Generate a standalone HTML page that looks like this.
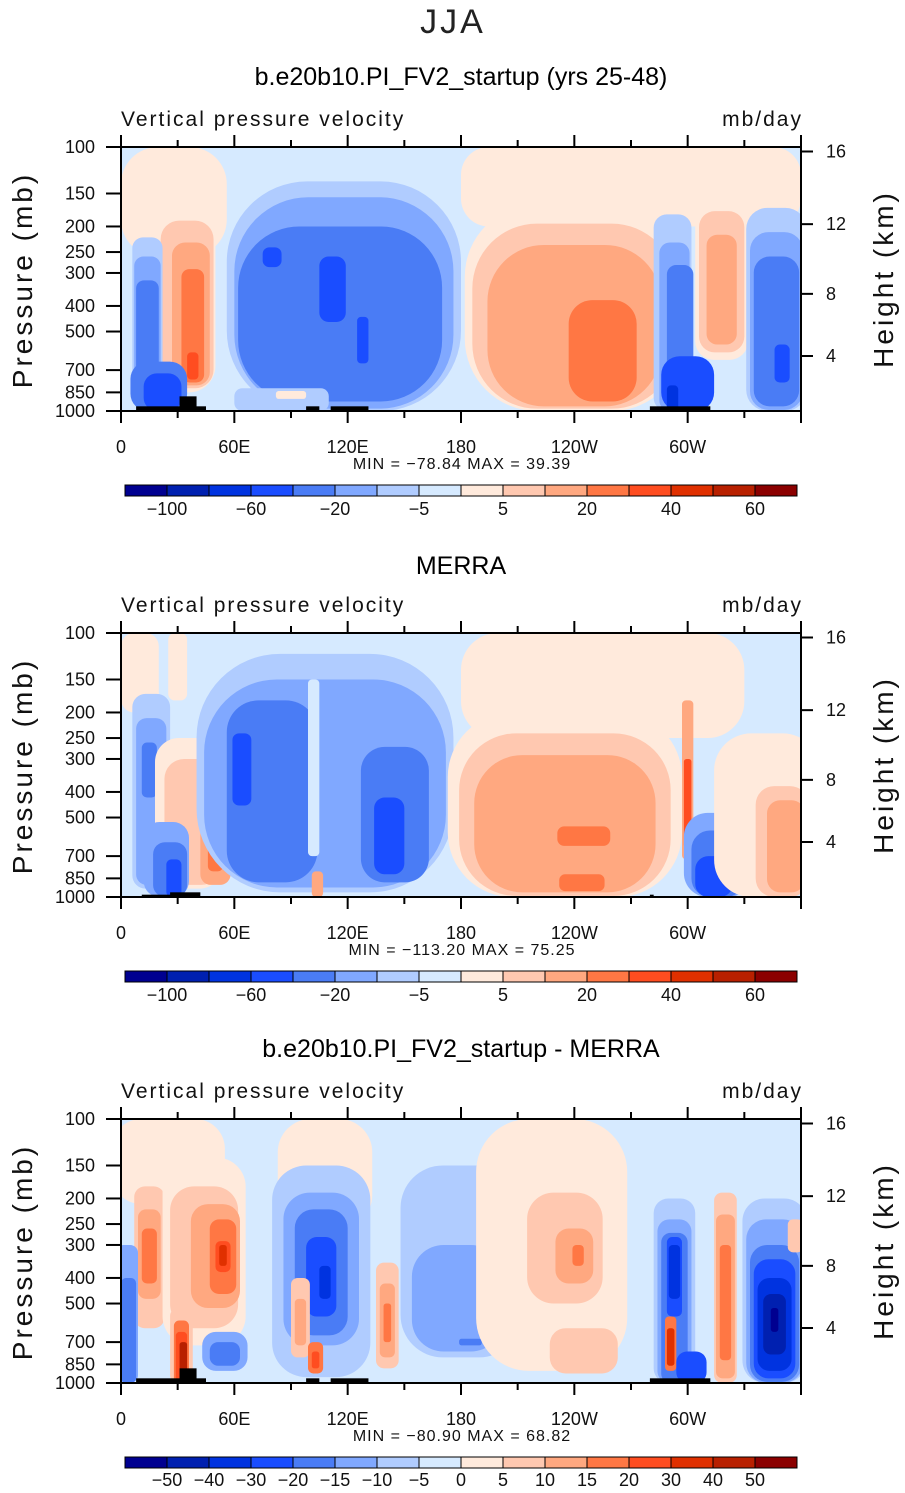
<!DOCTYPE html>
<html><head><meta charset="utf-8">
<style>
html,body{margin:0;padding:0;background:#fff;}
svg{display:block;font-family:"Liberation Sans",sans-serif;}
</style></head>
<body>
<svg id="chart" width="905" height="1493" viewBox="0 0 905 1493">
<text x="453" y="33" text-anchor="middle" font-size="34" font-weight="300" letter-spacing="3" fill="#222">JJA</text>
</svg>
<script>
const colors=["#000090","#0020b0","#0033e0","#1a4dff","#4a7cf5","#80a8ff","#b0ccff","#d6eaff","#ffeadc","#ffc8b0","#ffa880","#ff7744","#ff4d20","#e03000","#b82000","#8b0000"];
const xTickLabels=["0","60E","120E","180","120W","60W"];
const xTickLons=[0,60,120,180,240,300];
const pTicks=[100,150,200,250,300,400,500,700,850,1000];
const hTicks=[16,12,8,4];
const hTickP=[104,196,360,619];
const cbLabels1=["\u2212100","\u221260","\u221220","\u22125","5","20","40","60"];
const cbLabels3=["\u221250","\u221240","\u221230","\u221220","\u221215","\u221210","\u22125","0","5","10","15","20","30","40","50"];
const titles=["b.e20b10.PI_FV2_startup (yrs 25-48)","MERRA","b.e20b10.PI_FV2_startup - MERRA"];
const minVals=["\u221278.84","\u2212113.20","\u221280.90"];
const maxVals=["39.39","75.25","68.82"];
// blobs: [lon, halfWidthDeg, pTop, pBottom, level]
const field1=[
[270,90,100,200,8],[28,28,100,260,8],[30,20,100,850,8],[35,14,190,820,9],[37,10,230,800,10],[38,6,290,780,11],[38,3,600,760,12],
[14,8,220,960,6],[14,7,260,940,5],[14,6,320,940,4],[20,15,650,1000,4],[22,10,720,1000,3],
[118,62,135,1000,6],[118,58,155,980,5],[116,54,200,920,4],[80,5,240,285,3],[112,7,260,460,3],[128,3,440,660,3],
[85,25,820,1000,6],[90,8,840,900,8],
[240,58,165,1000,8],[240,54,195,980,9],[240,46,235,960,10],[255,18,380,920,11],
[292,10,180,1000,6],[293,8,230,1000,5],[296,7,280,1000,4],[300,14,620,1000,3],[292,3,800,1000,2],
[318,14,150,640,8],[318,12,175,600,9],[318,8,215,560,10],
[347,16,170,1000,6],[347,14,210,990,5],[347,12,260,960,4],[350,4,560,780,3]];
const field2=[
[10,10,100,200,8],[30,5,100,180,8],[255,75,100,250,8],
[16,10,170,930,6],[16,8,210,900,5],[15,4,260,420,4],
[36,18,250,930,8],[38,15,300,900,9],[50,8,520,900,10],[50,4,620,800,11],
[24,12,520,1000,5],[26,9,620,1000,4],[28,4,720,1000,3],
[108,68,120,960,6],[108,64,150,920,5],[80,24,180,880,4],[145,18,270,880,4],[64,5,240,450,3],[142,8,420,820,3],[102,3,150,700,7],[104,3,800,1000,10],
[235,62,200,1000,8],[235,56,240,990,9],[235,48,290,960,10],[245,14,540,640,11],[244,12,820,950,11],
[300,3,180,720,10],[300,2,300,650,12],
[316,18,480,1000,5],[316,14,560,1000,4],[314,10,700,1000,3],
[342,28,240,1000,8],[350,14,380,1000,9],[352,10,430,960,10]];
const field3=[
[25,30,100,210,8],[108,25,100,260,8],
[15,8,180,620,9],[15,6,220,480,10],[15,4,260,420,11],
[44,22,140,720,8],[44,18,180,620,9],[50,13,210,520,10],[54,7,240,460,11],[54,4,290,380,12],[54,2,300,360,13],
[3,6,300,1000,5],[4,4,400,1000,4],
[32,6,520,1000,9],[32,4,580,1000,11],[32,3,640,1000,12],[33,2,700,1000,14],
[55,12,640,900,5],[55,8,700,860,4],
[106,26,150,950,6],[106,20,190,720,5],[106,14,220,660,4],[106,8,280,560,3],[108,3,360,480,2],
[95,5,400,800,9],[95,3,480,720,10],[103,4,700,920,11],[103,2,760,880,12],
[141,6,350,880,9],[141,4,420,800,10],[141,2,500,700,11],
[180,32,150,800,6],[178,24,300,760,5],[185,6,680,720,4],
[228,40,100,900,8],[235,20,190,500,9],[240,10,260,420,10],[242,3,300,360,11],[245,18,620,920,9],
[293,11,200,1000,6],[293,9,240,1000,5],[293,7,270,1000,4],[293,4,280,560,3],[293,3,300,480,2],
[291,3,560,900,11],[291,2,620,860,13],[302,8,760,1000,3],
[320,6,190,1000,9],[320,5,230,960,10],[320,3,300,820,11],
[346,17,200,1000,6],[346,15,240,1000,5],[346,13,300,990,4],[346,11,340,960,3],[346,9,400,900,2],[346,6,460,780,1],[346,2,520,640,0],
[357,4,240,320,9]];
const fields=[field1,field2,field3];
// topography: [lon0, lon1, pTop]
const topo1=[[8,45,960],[31,40,880],[98,105,960],[111,131,960],[280,312,960]];
const topo2=[[11,40,980],[26,42,960],[280,282,980]];
const topos=[topo1,topo2,topo1];

const NS="http://www.w3.org/2000/svg";
const svg=document.getElementById("chart");
const X0=121,X1=801,PH=264;
function xOf(lon){return X0+lon*(X1-X0)/360;}
function mk(tag,attrs,parent){const e=document.createElementNS(NS,tag);for(const k in attrs)e.setAttribute(k,attrs[k]);(parent||svg).appendChild(e);return e;}
const titleY=[85,574,1057];

for(let i=0;i<3;i++){
  const off=i*486, top=147+off, bot=top+PH;
  const yOf=p=>top+Math.log10(p/100)*PH;
  const g=mk("g",{});
  
  
  const t=mk("text",{x:461,y:titleY[i],"text-anchor":"middle","font-size":"25",fill:"#000"},g);
  t.textContent=titles[i];
  
  
  const st=mk("text",{x:121,y:126+off,"font-size":"21","letter-spacing":"2",fill:"#111"},g);
  st.textContent="Vertical pressure velocity";
  
  
  const un=mk("text",{x:803,y:126+off,"text-anchor":"end","font-size":"21","letter-spacing":"2",fill:"#111"},g);
  un.textContent="mb/day";
  
  
  const cid="clip"+i;
  const cp=mk("clipPath",{id:cid},g);
  mk("rect",{x:X0,y:top,width:X1-X0,height:PH},cp);
  const pg=mk("g",{"clip-path":"url(#"+cid+")"},g);
  const bg=mk("rect",{x:X0,y:top,width:X1-X0,height:PH,fill:colors[7]},pg);
  
  
  fields[i].forEach(b=>{
    const yt=yOf(b[2]),yb=yOf(b[3]);
    const w=2*b[1]*(X1-X0)/360,h=yb-yt;
    const r=Math.min(w,h)*0.35;
    const e=mk("rect",{x:xOf(b[0])-w/2,y:yt,width:w,height:h,rx:r,ry:r,fill:colors[b[4]]},pg);
    
    
  });
  topos[i].forEach(tp=>{
    const r=mk("rect",{x:xOf(tp[0]),y:yOf(tp[2]),width:xOf(tp[1])-xOf(tp[0]),height:bot-yOf(tp[2]),fill:"#000"},pg);
    
    
  });
  const fr=mk("rect",{x:X0,y:top,width:X1-X0,height:PH,fill:"none",stroke:"#000","stroke-width":"2"},g);
  
  
  for(let lon=0;lon<=360;lon+=30){
    const x=xOf(lon),len=(lon%60==0)?12:7;
    mk("line",{x1:x,x2:x,y1:top,y2:top-len,stroke:"#000","stroke-width":"2"},g);
    mk("line",{x1:x,x2:x,y1:bot,y2:bot+len,stroke:"#000","stroke-width":"2"},g);
  }
  xTickLons.forEach((lon,k)=>{
    const tx=mk("text",{x:xOf(lon),y:bot+42,"text-anchor":"middle","font-size":"18",fill:"#111"},g);
    tx.textContent=xTickLabels[k];
    
    
  });
  pTicks.forEach(p=>{
    const y=yOf(p);
    mk("line",{x1:X0,x2:X0-15,y1:y,y2:y,stroke:"#000","stroke-width":"2"},g);
    const tx=mk("text",{x:95,y:y+6,"text-anchor":"end","font-size":"18",fill:"#111"},g);
    tx.textContent=p;
    
    
  });
  hTicks.forEach((h,k)=>{
    const y=yOf(hTickP[k]);
    mk("line",{x1:X1,x2:X1+12,y1:y,y2:y,stroke:"#000","stroke-width":"2"},g);
    const tx=mk("text",{x:826,y:y+6,"font-size":"18",fill:"#111"},g);
    tx.textContent=h;
    
    
  });
  const yl=mk("text",{x:0,y:0,transform:"translate(32,"+(top+133)+") rotate(-90)","text-anchor":"middle","font-size":"28","letter-spacing":"3",fill:"#111"},g);
  yl.textContent="Pressure (mb)";
  
  
  const yr=mk("text",{x:0,y:0,transform:"translate(893,"+(top+132)+") rotate(-90)","text-anchor":"middle","font-size":"28","letter-spacing":"3",fill:"#111"},g);
  yr.textContent="Height (km)";
  
  
  const mm=mk("text",{x:462,y:bot+58,"text-anchor":"middle","font-size":"16","letter-spacing":"1","xml:space":"preserve",fill:"#111"},g);
  mm.textContent="MIN =  "+minVals[i]+"   MAX =   "+maxVals[i];
  
  
  const cy=(i==2)?1457:485+off;
  const cb=mk("g",{},g);
  
  
  colors.forEach((c,k)=>{
    const r=mk("rect",{x:125+k*42,y:cy,width:42,height:11,fill:c,stroke:"#000","stroke-width":"1"},cb);
    
    
  });
  if(i<2){
    cbLabels1.forEach((s,k)=>{
      const tx=mk("text",{x:125+(2*k+1)*42,y:cy+30,"text-anchor":"middle","font-size":"18",fill:"#111"},cb);
      tx.textContent=s;
      
      
    });
  } else {
    cbLabels3.forEach((s,k)=>{
      const tx=mk("text",{x:125+(k+1)*42,y:cy+29,"text-anchor":"middle","font-size":"18",fill:"#111"},cb);
      tx.textContent=s;
      
      
    });
  }
}
</script>
</body></html>
